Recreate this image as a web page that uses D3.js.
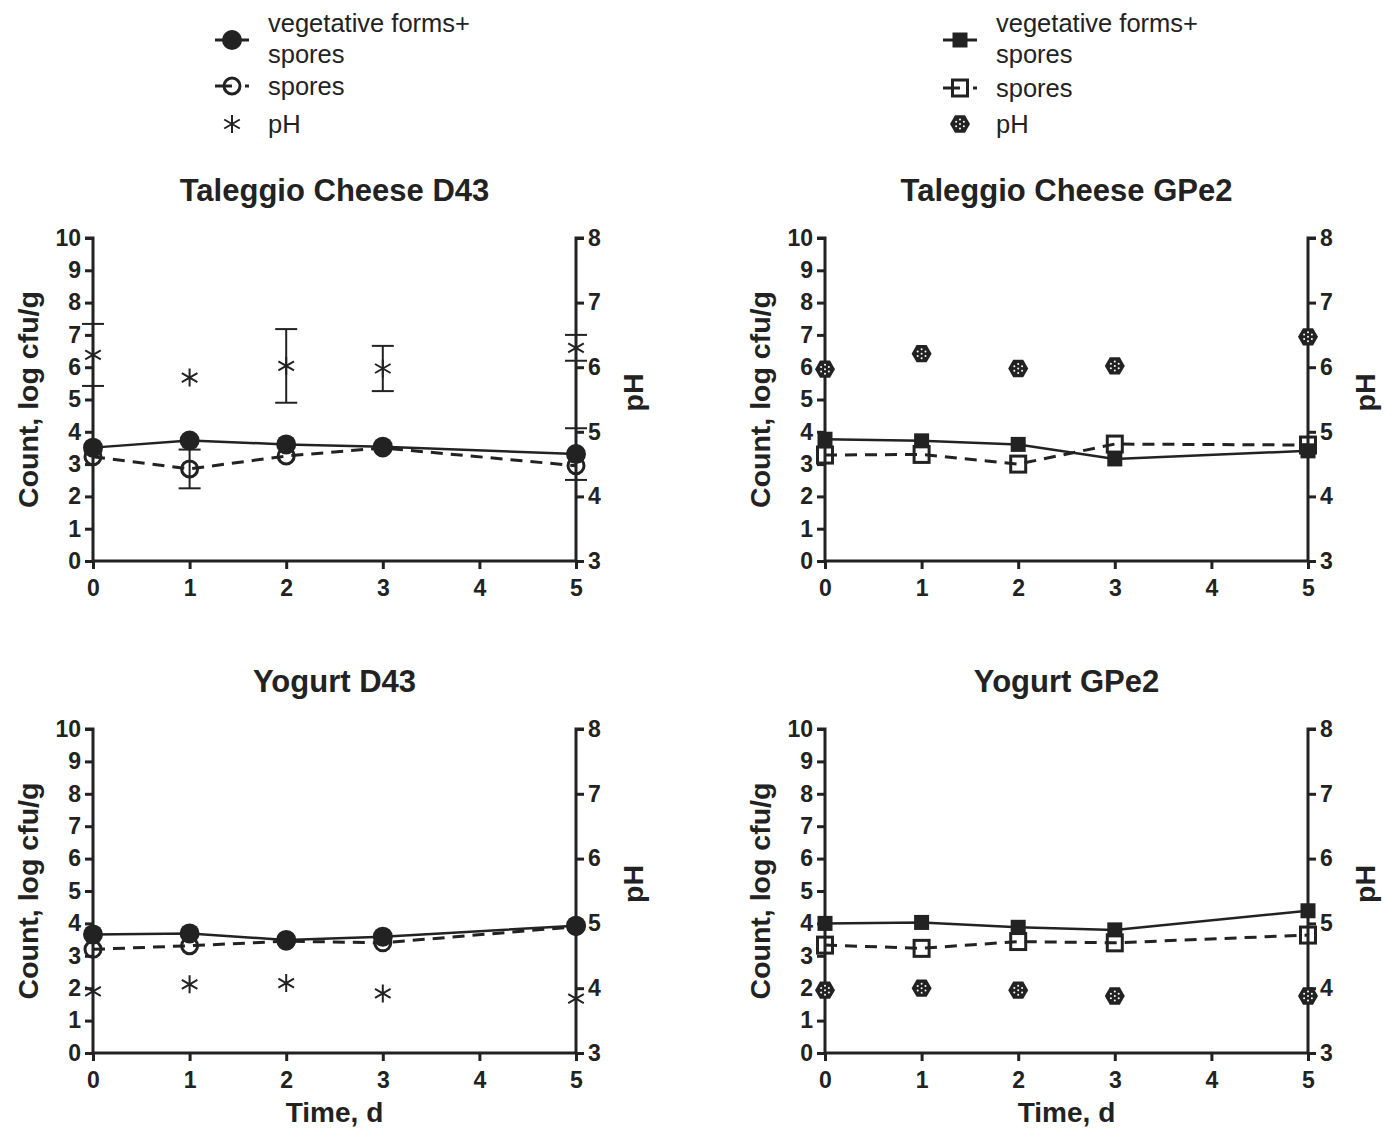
<!DOCTYPE html>
<html><head><meta charset="utf-8">
<script src="https://cdnjs.cloudflare.com/ajax/libs/d3/7.8.5/d3.min.js"></script>
<style>
body{margin:0;background:#fff;}
svg{display:block;}
text{font-family:"Liberation Sans",Arial,sans-serif;fill:#222;}
</style></head>
<body>
<svg id="c" width="1396" height="1129"></svg>
<script>
// ---------- data ----------
const days = [0, 1, 2, 3, 5];
const xTicks = [0, 1, 2, 3, 4, 5];
const countTicks = [0, 1, 2, 3, 4, 5, 6, 7, 8, 9, 10];
const phTicks = [3, 4, 5, 6, 7, 8];
const panelTitles = ["Taleggio Cheese D43", "Taleggio Cheese GPe2", "Yogurt D43", "Yogurt GPe2"];
const legendLabels = ["vegetative forms+", "spores", "spores", "pH"];

const taleggioD43Veg      = [3.51, 3.73, 3.61, 3.54, 3.31];
const taleggioD43VegErr   = [0, 0, 0, 0, 0.8];
const taleggioD43Spores   = [3.23, 2.85, 3.25, 3.50, 2.95];
const taleggioD43SporesErr= [0, 0.6, 0, 0, 0];
const taleggioD43PH       = [6.19, 5.84, 6.02, 5.98, 6.30];
const taleggioD43PHErr    = [0.48, 0, 0.57, 0.35, 0.2];

const taleggioGPe2Veg     = [3.77, 3.72, 3.61, 3.16, 3.41];
const taleggioGPe2Spores  = [3.28, 3.30, 3.00, 3.62, 3.59];
const taleggioGPe2PH      = [5.97, 6.21, 5.98, 6.02, 6.47];

const yogurtD43Veg        = [3.66, 3.69, 3.49, 3.59, 3.93];
const yogurtD43Spores     = [3.20, 3.31, 3.45, 3.40, 3.90];
const yogurtD43PH         = [3.95, 4.06, 4.08, 3.92, 3.84];

const yogurtGPe2Veg       = [4.00, 4.03, 3.88, 3.80, 4.39];
const yogurtGPe2Spores    = [3.33, 3.23, 3.44, 3.40, 3.64];
const yogurtGPe2PH        = [3.97, 4.00, 3.97, 3.88, 3.88];

// ---------- drawing ----------
const INK = "#222";
const svg = d3.select("#c");

function starPath(r) {
  let p = "";
  for (let a of [90, 30, 150]) {
    const t = a * Math.PI / 180;
    const dx = r * Math.cos(t), dy = r * Math.sin(t);
    p += `M${-dx},${-dy}L${dx},${dy}`;
  }
  return p;
}

function drawMarker(g, type, x, y) {
  if (type === "filledCircle") {
    g.append("circle").attr("cx", x).attr("cy", y).attr("r", 10).attr("fill", INK);
  } else if (type === "openCircle") {
    g.append("circle").attr("cx", x).attr("cy", y).attr("r", 8)
      .attr("fill", "none").attr("stroke", INK).attr("stroke-width", 3);
  } else if (type === "filledSquare") {
    g.append("rect").attr("x", x - 7.5).attr("y", y - 7.5).attr("width", 15).attr("height", 15).attr("fill", INK);
  } else if (type === "openSquare") {
    g.append("rect").attr("x", x - 7.5).attr("y", y - 8).attr("width", 15).attr("height", 16)
      .attr("fill", "none").attr("stroke", INK).attr("stroke-width", 3);
  } else if (type === "star") {
    g.append("path").attr("transform", `translate(${x},${y})`).attr("d", starPath(9))
      .attr("stroke", INK).attr("stroke-width", 2).attr("fill", "none");
  } else if (type === "dotHex") {
    const hex = d3.range(6).map(i => {
      const t = (i * 60) * Math.PI / 180;
      return [x + 10 * Math.cos(t), y + 10 * Math.sin(t)];
    });
    g.append("path").attr("d", "M" + hex.map(p => p.join(",")).join("L") + "Z").attr("fill", INK);
    const dots = d3.range(6).map(i => {
      const t = (i * 60 + 30) * Math.PI / 180;
      return [x + 4.5 * Math.cos(t), y + 4.5 * Math.sin(t)];
    });
    dots.push([x, y]);
    g.selectAll(null).data(dots).enter().append("circle")
      .attr("cx", d => d[0]).attr("cy", d => d[1]).attr("r", 1).attr("fill", "#fff");
  }
}

function drawErr(g, x, yHi, yLo) {
  g.append("line").attr("x1", x).attr("x2", x).attr("y1", yHi).attr("y2", yLo)
    .attr("stroke", INK).attr("stroke-width", 2);
  [yHi, yLo].forEach(yy => g.append("line").attr("x1", x - 11).attr("x2", x + 11)
    .attr("y1", yy).attr("y2", yy).attr("stroke", INK).attr("stroke-width", 2));
}

function panel(opts) {
  const g = svg.append("g");
  const x = d3.scaleLinear().domain([0, 5]).range([opts.x0, opts.x1]);
  const y = d3.scaleLinear().domain([0, 10]).range([opts.yBot, opts.yTop]);
  const yp = d3.scaleLinear().domain([3, 8]).range([opts.yBot, opts.yTop]);

  const axL = g.append("g").attr("transform", `translate(${opts.x0},0)`)
    .call(d3.axisLeft(y).tickValues(countTicks).tickSize(8).tickPadding(4).tickFormat(d3.format("d")));
  const axR = g.append("g").attr("transform", `translate(${opts.x1},0)`)
    .call(d3.axisRight(yp).tickValues(phTicks).tickSize(8).tickPadding(4).tickFormat(d3.format("d")));
  const axB = g.append("g").attr("transform", `translate(0,${opts.yBot})`)
    .call(d3.axisBottom(x).tickValues(xTicks).tickSize(8).tickPadding(11).tickFormat(d3.format("d")));
  [axL, axR, axB].forEach(a => {
    a.select(".domain").attr("stroke", INK).attr("stroke-width", 3);
    a.selectAll(".tick line").attr("stroke", INK).attr("stroke-width", 3);
    a.selectAll(".tick text").attr("fill", INK).style("font-family", '"Liberation Sans",Arial,sans-serif')
      .style("font-weight", "bold").style("font-size", "23px");
  });
  axL.select(".domain").attr("d", `M-8,${opts.yTop}H0V${opts.yBot}`);
  axR.select(".domain").attr("d", `M8,${opts.yTop}H0V${opts.yBot}`);
  axB.select(".domain").attr("d", `M${opts.x0},0H${opts.x1}`);

  g.append("text").attr("x", (opts.x0 + opts.x1) / 2).attr("y", opts.yTop - 37)
    .attr("text-anchor", "middle").style("font-weight", "bold").style("font-size", "31px").text(opts.title);

  const ym = (opts.yTop + opts.yBot) / 2;
  g.append("text").attr("transform", `translate(${opts.x0 - 55},${ym}) rotate(-90)`)
    .attr("text-anchor", "middle").style("font-weight", "bold").style("font-size", "28.5px")
    .text("Count, log cfu/g");
  g.append("text").attr("transform", `translate(${opts.x1 + 67},${ym - 7}) rotate(-90)`)
    .attr("text-anchor", "middle").style("font-weight", "bold").style("font-size", "28.5px")
    .text("pH");
  if (opts.xLabel) {
    g.append("text").attr("x", (opts.x0 + opts.x1) / 2).attr("y", opts.yBot + 69)
      .attr("text-anchor", "middle").style("font-weight", "bold").style("font-size", "28px").text("Time, d");
  }

  const line = d3.line().x(d => x(d[0])).y(d => y(d[1]));
  g.append("path").datum(d3.zip(days, opts.spores)).attr("d", line)
    .attr("fill", "none").attr("stroke", INK).attr("stroke-width", 3).attr("stroke-dasharray", "12,8");
  g.append("path").datum(d3.zip(days, opts.veg)).attr("d", line)
    .attr("fill", "none").attr("stroke", INK).attr("stroke-width", 2.5);

  days.forEach((d, i) => {
    if (opts.vegErr && opts.vegErr[i]) drawErr(g, x(d), y(opts.veg[i] + opts.vegErr[i]), y(opts.veg[i] - opts.vegErr[i]));
    if (opts.sporesErr && opts.sporesErr[i]) drawErr(g, x(d), y(opts.spores[i] + opts.sporesErr[i]), y(opts.spores[i] - opts.sporesErr[i]));
    if (opts.phErr && opts.phErr[i]) drawErr(g, x(d), yp(opts.ph[i] + opts.phErr[i]), yp(opts.ph[i] - opts.phErr[i]));
  });

  days.forEach((d, i) => drawMarker(g, opts.vegMarker, x(d), y(opts.veg[i])));
  days.forEach((d, i) => drawMarker(g, opts.sporesMarker, x(d), y(opts.spores[i])));
  days.forEach((d, i) => drawMarker(g, opts.phMarker, x(d), yp(opts.ph[i])));
}

panel({x0: 93, x1: 576, yTop: 238, yBot: 561, title: panelTitles[0],
  veg: taleggioD43Veg, vegErr: taleggioD43VegErr, spores: taleggioD43Spores, sporesErr: taleggioD43SporesErr,
  ph: taleggioD43PH, phErr: taleggioD43PHErr,
  vegMarker: "filledCircle", sporesMarker: "openCircle", phMarker: "star"});
panel({x0: 825, x1: 1308, yTop: 238, yBot: 561, title: panelTitles[1],
  veg: taleggioGPe2Veg, spores: taleggioGPe2Spores, ph: taleggioGPe2PH,
  vegMarker: "filledSquare", sporesMarker: "openSquare", phMarker: "dotHex"});
panel({x0: 93, x1: 576, yTop: 729, yBot: 1053, title: panelTitles[2], xLabel: true,
  veg: yogurtD43Veg, spores: yogurtD43Spores, ph: yogurtD43PH,
  vegMarker: "filledCircle", sporesMarker: "openCircle", phMarker: "star"});
panel({x0: 825, x1: 1308, yTop: 729, yBot: 1053, title: panelTitles[3], xLabel: true,
  veg: yogurtGPe2Veg, spores: yogurtGPe2Spores, ph: yogurtGPe2PH,
  vegMarker: "filledSquare", sporesMarker: "openSquare", phMarker: "dotHex"});

function legend(lx, tx, rows, markers) {
  const g = svg.append("g");
  const fs = "25.5px";
  g.append("line").attr("x1", lx - 17).attr("x2", lx + 17).attr("y1", rows[0]).attr("y2", rows[0])
    .attr("stroke", INK).attr("stroke-width", 3);
  drawMarker(g, markers[0], lx, rows[0]);
  g.append("text").attr("x", tx).attr("y", rows[0] - 8).style("font-size", fs).text(legendLabels[0]);
  g.append("text").attr("x", tx).attr("y", rows[0] + 23).style("font-size", fs).text(legendLabels[1]);
  g.append("line").attr("x1", lx - 17).attr("x2", lx).attr("y1", rows[1]).attr("y2", rows[1])
    .attr("stroke", INK).attr("stroke-width", 3);
  g.append("line").attr("x1", lx + 13).attr("x2", lx + 17).attr("y1", rows[1]).attr("y2", rows[1])
    .attr("stroke", INK).attr("stroke-width", 3);
  drawMarker(g, markers[1], lx, rows[1]);
  g.append("text").attr("x", tx).attr("y", rows[1] + 9).style("font-size", fs).text(legendLabels[2]);
  drawMarker(g, markers[2], lx, rows[2]);
  g.append("text").attr("x", tx).attr("y", rows[2] + 9).style("font-size", fs).text(legendLabels[3]);
}
legend(232, 268, [40, 86, 124], ["filledCircle", "openCircle", "star"]);
legend(960, 996, [40, 88, 124], ["filledSquare", "openSquare", "dotHex"]);
</script>
</body></html>
